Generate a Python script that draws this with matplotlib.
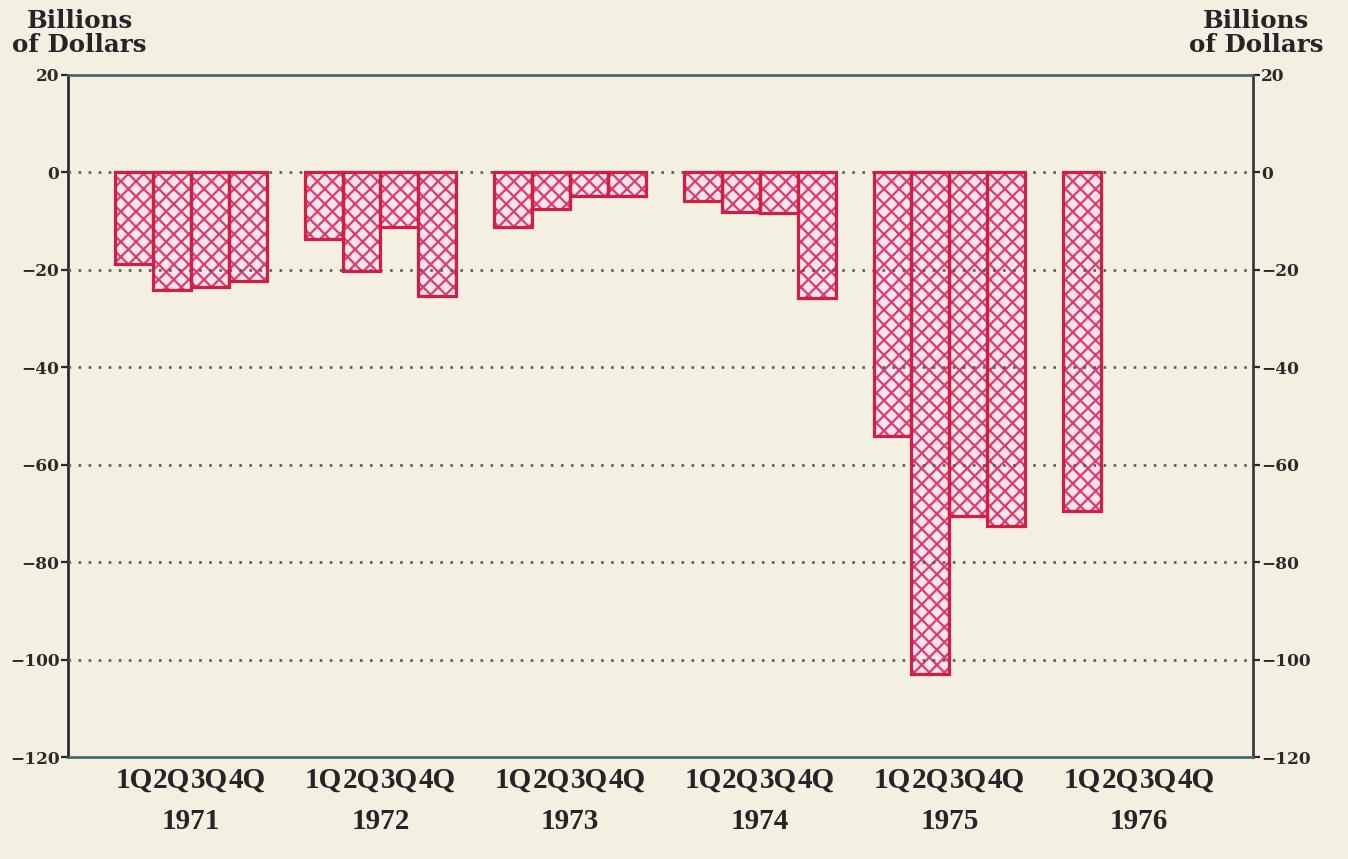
import numpy as np
import matplotlib.pyplot as plt

# data (billions of dollars, quarterly)
years = ['1971', '1972', '1973', '1974', '1975', '1976']
quarters = ['1Q', '2Q', '3Q', '4Q']
v1971 = [-18.8, -24.2, -23.6, -22.3]
v1972 = [-13.7, -20.2, -11.2, -25.3]
v1973 = [-11.1, -7.6, -4.9, -4.9]
v1974 = [-5.8, -8.2, -8.3, -25.8]
v1975 = [-54.0, -102.9, -70.6, -72.5]
v1976 = [-69.5]
yticks = [20, 0, -20, -40, -60, -80, -100, -120]

series = [v1971, v1972, v1973, v1974, v1975, v1976]

bg = '#f3f0e2'
red = '#cf1f45'
pink = '#dc3c7a'

plt.rcParams['hatch.linewidth'] = 1.2

dpi = 136
fig = plt.figure(figsize=(1348 / dpi, 859 / dpi), dpi=dpi, facecolor=bg)
ax = fig.add_axes([0.0504, 0.1187, 0.879, 0.794], facecolor=bg)

xs, vals = [], []
for i, vv in enumerate(series):
    for q, v in enumerate(vv):
        xs.append(5 * i + q)
        vals.append(v)

ax.bar(xs, vals, width=1.0, facecolor='#f6e6e8', edgecolor=pink,
       hatch='xxx', linewidth=0, zorder=2)
ax.bar(xs, vals, width=1.0, fill=False, edgecolor=red, linewidth=1.7, zorder=4)

# dotted gridlines drawn over the bars
for y in yticks[1:-1]:
    ax.axhline(y, color='#5a5a5a', linestyle=(0, (1, 2.8)), linewidth=1.4, zorder=3)

ax.set_ylim(-120, 20)
ax.set_xlim(-1.74, 29.5)
ax.set_yticks(yticks)
ax.set_yticklabels([str(t).replace('-', '\u2212') for t in yticks])
ax.tick_params(axis='y', which='both', left=True, right=True, labelleft=True,
               labelright=True, direction='out', length=3.5, width=1.2,
               pad=1, colors='#2a2a2a', labelsize=9)
for t in ax.yaxis.get_major_ticks():
    for lab in (t.label1, t.label2):
        lab.set_fontfamily('DejaVu Serif')
        lab.set_fontweight('bold')

# quarter labels under every bar slot, year labels under each group
qpos = [5 * i + q for i in range(len(years)) for q in range(4)]
ax.set_xticks(qpos)
ax.set_xticklabels(quarters * len(years), fontfamily='Liberation Serif',
                   fontweight='bold', fontsize=15.5, color='#2a2228')
ax.set_xticks([5 * i + 1.5 for i in range(len(years))], minor=True)
ax.set_xticklabels(years, minor=True, fontfamily='Liberation Serif',
                   fontweight='bold', fontsize=15.5, color='#2a2228')
ax.tick_params(axis='x', which='major', length=0, pad=5)
ax.tick_params(axis='x', which='minor', length=0, pad=27)

ax.spines['left'].set_color('#222228')
ax.spines['right'].set_color('#33333a')
ax.spines['top'].set_color('#3d6470')
ax.spines['bottom'].set_color('#3d6470')
for s in ax.spines.values():
    s.set_linewidth(1.4)

hdr = dict(fontfamily='DejaVu Serif', fontweight='bold', fontsize=13,
           color='#2a2228', ha='center', va='top', linespacing=1.0,
           multialignment='center')
fig.text(0.059, 0.99, 'Billions\nof Dollars', **hdr)
fig.text(0.932, 0.99, 'Billions\nof Dollars', **hdr)

fig.savefig('out.png', dpi=dpi, facecolor=bg)
